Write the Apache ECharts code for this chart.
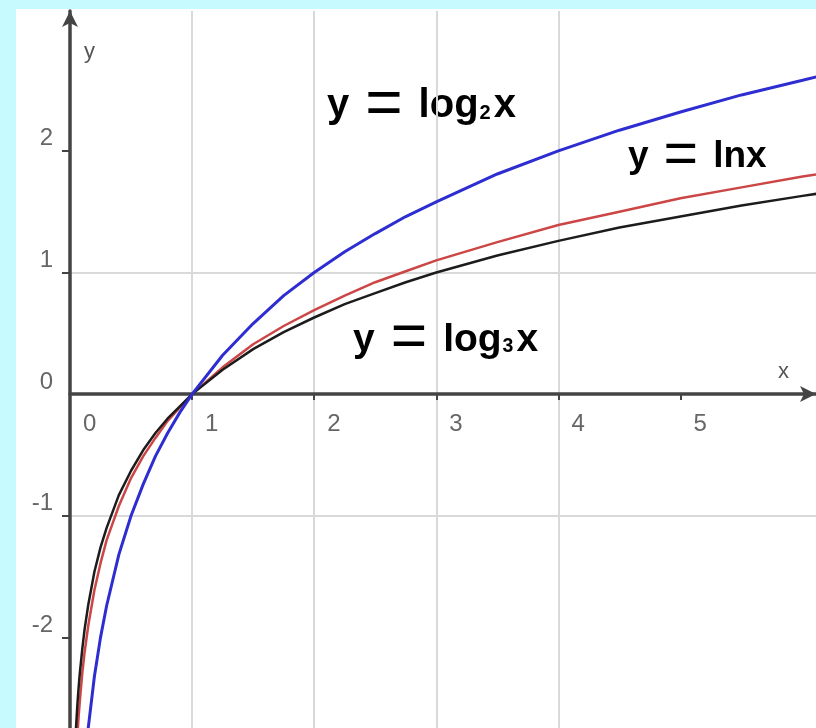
<!DOCTYPE html>
<html>
<head>
<meta charset="utf-8">
<script src="https://cdn.jsdelivr.net/npm/echarts@6/dist/echarts.min.js"></script>
<style>
    html, body { margin: 0; padding: 0; background: #c6faff; overflow: hidden; }
    #chart { position: absolute; left: 16px; top: 9px; width: 800px; height: 750px; background: #ffffff; }
</style>
</head>
<body>
<div id="chart"></div>
<script>
// x 取样点
var xs = [0.03, 0.04, 0.05, 0.06, 0.07, 0.08, 0.1, 0.12, 0.15, 0.2, 0.25, 0.3, 0.4, 0.5, 0.6, 0.7, 0.8, 0.9, 1, 1.25, 1.5, 1.75, 2, 2.25, 2.5, 2.75, 3, 3.5, 4, 4.5, 5, 5.5, 6, 6.2];
// y = log2 x （蓝线）
var log2Vals = [-5.06, -4.64, -4.32, -4.06, -3.84, -3.64, -3.32, -3.06, -2.74, -2.32, -2.0, -1.74, -1.32, -1.0, -0.74, -0.51, -0.32, -0.15, 0, 0.32, 0.58, 0.81, 1.0, 1.17, 1.32, 1.46, 1.58, 1.81, 2.0, 2.17, 2.32, 2.46, 2.58, 2.63];
// y = ln x （红线）
var lnVals = [-3.51, -3.22, -3.0, -2.81, -2.66, -2.53, -2.30, -2.12, -1.90, -1.61, -1.39, -1.20, -0.92, -0.69, -0.51, -0.36, -0.22, -0.11, 0, 0.22, 0.41, 0.56, 0.69, 0.81, 0.92, 1.01, 1.10, 1.25, 1.39, 1.50, 1.61, 1.70, 1.79, 1.82];
// y = log3 x （黑线）
var log3Vals = [-3.19, -2.93, -2.73, -2.56, -2.42, -2.30, -2.10, -1.93, -1.73, -1.46, -1.26, -1.10, -0.83, -0.63, -0.46, -0.32, -0.20, -0.10, 0, 0.20, 0.37, 0.51, 0.63, 0.74, 0.83, 0.92, 1.0, 1.14, 1.26, 1.37, 1.46, 1.55, 1.63, 1.66];
// 刻度标签
var xTickLabels = [0, 1, 2, 3, 4, 5];
var yTickLabels = [-2, -1, 0, 1, 2];

function pairs(vals) {
    var arr = [];
    for (var i = 0; i < xs.length; i++) {
        arr.push([xs[i], vals[i]]);
    }
    return arr;
}

var chart = echarts.init(document.getElementById('chart'));
var axisColor = '#444444';
var labelFont = 'Liberation Sans';

// 网格：高 748px 对应 -3 ~ 3.15，x 轴(0)离网格底部 364.8px
var gridHeight = 748;
var yMin = -3, yMax = 3.15;
var zeroOffset = gridHeight * (0 - yMin) / (yMax - yMin);

function eqText(sub, rest) {
    return '{t|y}{eq|=}{t|' + rest + '}' + (sub ? '{s|' + sub + '}{t|x}' : '');
}
function eqRich(color, size, gap) {
    return {
        t: { fontSize: size, fontWeight: 'bold', color: color, fontFamily: labelFont, lineHeight: 56 },
        eq: { fontSize: size * 1.6, fontWeight: 'normal', color: color, fontFamily: labelFont, lineHeight: 56, padding: [0, gap, 0, gap] },
        s: { fontSize: size * 0.5, fontWeight: 'bold', color: color, fontFamily: labelFont, lineHeight: 56, padding: [14, 3, 0, 1] }
    };
}

var option = {
    backgroundColor: 'transparent',
    animation: false,
    grid: { left: 54, right: 0, top: 2, bottom: 0 },
    xAxis: {
        type: 'value',
        min: 0,
        max: 6.11,
        interval: 1,
        position: 'bottom',
        offset: -zeroOffset,
        axisLine: { onZero: false, lineStyle: { color: axisColor, width: 3.5 }, symbol: ['none', 'arrow'], symbolSize: [12, 16] },
        axisTick: { show: true, customValues: [1, 2, 3, 4, 5], length: 6, lineStyle: { color: axisColor, width: 2 } },
        axisLabel: {
            customValues: xTickLabels,
            align: 'left', verticalAlign: 'top', margin: 18, padding: [0, 0, 0, 13],
            fontSize: 24, color: '#666666', fontFamily: labelFont
        },
        splitLine: { show: true, showMaxLine: false, lineStyle: { color: '#d9d9d9', width: 2 } }
    },
    yAxis: {
        type: 'value',
        min: yMin,
        max: yMax,
        interval: 1,
        axisLine: { onZero: true, lineStyle: { color: axisColor, width: 3.5 }, symbol: ['none', 'arrow'], symbolSize: [12, 16] },
        axisTick: { show: true, customValues: [-2, -1, 1, 2], length: 8, lineStyle: { color: axisColor, width: 2 } },
        axisLabel: {
            customValues: yTickLabels,
            verticalAlign: 'bottom', margin: 17,
            fontSize: 24, color: '#666666', fontFamily: labelFont
        },
        splitLine: { show: true, showMaxLine: false, showMinLine: false, lineStyle: { color: '#d9d9d9', width: 2 } }
    },
    series: [
        {
            name: 'ln', type: 'line', data: pairs(lnVals), showSymbol: false,
            lineStyle: { color: '#cc4646', width: 2.5 }
        },
        {
            name: 'log3', type: 'line', data: pairs(log3Vals), showSymbol: false,
            lineStyle: { color: '#1c1c1c', width: 2.5 }
        },
        {
            name: 'log2', type: 'line', data: pairs(log2Vals), showSymbol: false,
            lineStyle: { color: '#2d2dd2', width: 3 }
        }
    ],
    graphic: [
        // 坐标轴名称
        { type: 'text', left: 68, top: 32, style: { text: 'y', fontSize: 22, fill: '#555555', fontFamily: labelFont } },
        { type: 'text', left: 762, top: 352, style: { text: 'x', fontSize: 22, fill: '#555555', fontFamily: labelFont } },
        // 曲线标注
        { type: 'text', left: 311, top: 65, style: { text: eqText('2', 'log'), rich: eqRich('#3535c8', 40, 16) } },
        { type: 'text', left: 612, top: 118, style: { text: eqText('', 'lnx'), rich: eqRich('#c44848', 37, 15) } },
        { type: 'text', left: 337, top: 300, style: { text: eqText('3', 'log'), rich: eqRich('#2a2a2a', 39, 16) } }
    ]
};
chart.setOption(option);
</script>
</body>
</html>
